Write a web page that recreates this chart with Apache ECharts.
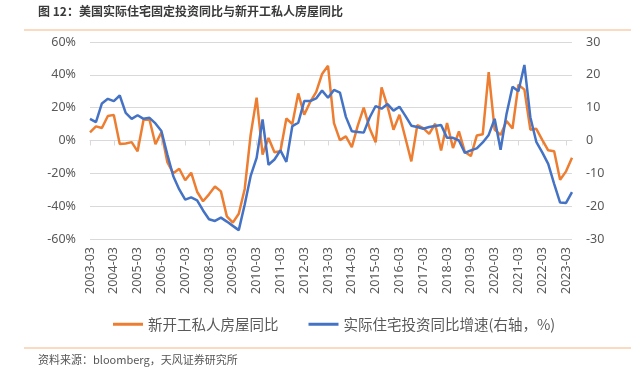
<!DOCTYPE html>
<html><head><meta charset="utf-8">
<script src="https://cdn.jsdelivr.net/npm/echarts@6/dist/echarts.min.js"></script>
<style>html,body{margin:0;padding:0;background:#fff}#c{width:631px;height:375px}</style>
</head><body><div id="c"></div>
<script>
// quarterly categories 2003-03 .. 2023-06
const categories = [];
for (let y = 2003; y <= 2023; y++) { for (const m of ['03','06','09','12']) { categories.push(y + '-' + m); } }
categories.length = 82;

const housingStartsYoY = [5.0,8.6,7.6,14.9,15.6,-2.1,-1.8,-1.0,-6.6,12.6,12.6,-2.3,5.0,-13.2,-20.0,-17.2,-24.2,-19.6,-31.2,-37.0,-32.8,-28.0,-31.0,-46.2,-50.0,-44.6,-29.5,3.5,26.1,-8.6,1.5,-7.1,-6.5,13.4,10.0,28.7,15.7,23.5,29.5,40.5,45.5,10.6,0.2,2.5,-4.0,9.1,20.0,7.3,-1.1,32.4,20.8,6.6,15.7,1.5,-12.7,9.3,7.5,4.0,10.2,-6.1,10.6,-4.6,5.6,-7.0,-9.5,3.0,3.8,41.6,6.6,3.4,11.9,7.3,34.0,31.0,6.6,7.1,0.4,-6.0,-6.6,-23.9,-18.8,-10.5];

const resInvestYoY = [6.6,5.6,11.3,12.7,12.0,13.7,8.4,6.6,7.7,6.6,6.9,5.2,2.9,-4.3,-10.9,-14.9,-18.0,-17.3,-18.2,-21.3,-24.0,-24.5,-23.5,-24.7,-26.0,-27.3,-19.5,-10.8,-5.3,6.4,-7.4,-5.8,-3.0,-6.5,4.4,5.4,12.0,12.0,12.8,15.2,13.0,15.4,14.6,7.2,2.8,2.6,2.4,7.0,10.5,9.7,11.1,9.1,10.3,7.5,4.5,4.1,3.6,4.1,4.4,4.7,0.8,0.8,0.0,-3.8,-3.0,-2.4,-0.6,1.7,6.6,-2.8,8.1,16.4,15.0,23.0,7.1,-0.4,-3.6,-7.1,-13.2,-18.9,-19.0,-15.7];

const seriesNames = ['新开工私人房屋同比', '实际住宅投资同比增速(右轴，%)'];
const titleText = '图 12：美国实际住宅固定投资同比与新开工私人房屋同比';
const sourceText = '资料来源：bloomberg，天风证券研究所';

const chart = echarts.init(document.getElementById('c'), null, {renderer: 'canvas'});
const axisFont = {color: '#595959', fontSize: 12.5, fontFamily: 'Noto Sans'};
chart.setOption({
  animation: false,
  backgroundColor: '#fff',
  grid: {left: 90, right: 59, top: 42, bottom: 136, containLabel: false},
  graphic: [
    {type: 'text', left: 38, top: 5, style: {text: titleText, font: 'bold 12px "Noto Sans CJK SC"', fill: '#3a3a3a'}},
    {type: 'line', shape: {x1: 24, y1: 30, x2: 631, y2: 30}, style: {stroke: '#F5B583', lineWidth: 1.2}},
    {type: 'line', shape: {x1: 24, y1: 348, x2: 631, y2: 348}, style: {stroke: '#F5B583', lineWidth: 1.2}},
    {type: 'text', left: 38, top: 354, style: {text: sourceText, font: '11px "Noto Sans CJK SC"', fill: '#555'}}
  ],
  legend: {
    top: 312, left: 108,
    itemWidth: 30, itemHeight: 3, itemGap: 30,
    icon: 'rect',
    textStyle: {color: '#595959', fontSize: 14.5, fontFamily: 'Noto Sans CJK SC'},
    data: seriesNames
  },
  xAxis: [
    {
      type: 'category', data: categories, boundaryGap: false, position: 'bottom',
      axisLine: {show: false, onZero: false}, axisTick: {show: false},
      axisLabel: Object.assign({rotate: 90, interval: 3, margin: 8}, axisFont),
      splitLine: {show: false}
    },
    {
      type: 'category', data: categories, boundaryGap: false, position: 'bottom',
      axisLine: {show: true, onZero: true, onZeroAxisIndex: 0, lineStyle: {color: '#d9d9d9', width: 1}},
      axisTick: {show: true, interval: 3, length: 5, lineStyle: {color: '#d9d9d9'}},
      axisLabel: {show: false}, splitLine: {show: false}
    }
  ],
  yAxis: [
    {
      type: 'value', min: -60, max: 60, interval: 20, position: 'left',
      axisLine: {show: false}, axisTick: {show: false},
      axisLabel: Object.assign({formatter: '{value}%', margin: 14}, axisFont),
      splitLine: {show: true, lineStyle: {color: '#d9d9d9', width: 1}}
    },
    {
      type: 'value', min: -30, max: 30, interval: 10, position: 'right',
      axisLine: {show: false}, axisTick: {show: false},
      axisLabel: Object.assign({margin: 14}, axisFont),
      splitLine: {show: false}
    }
  ],
  series: [
    {name: seriesNames[0], type: 'line', xAxisIndex: 0, yAxisIndex: 0, data: housingStartsYoY,
     showSymbol: false, symbol: 'none', lineStyle: {color: '#ED7D31', width: 2.5}, itemStyle: {color: '#ED7D31'}, z: 2},
    {name: seriesNames[1], type: 'line', xAxisIndex: 0, yAxisIndex: 1, data: resInvestYoY,
     showSymbol: false, symbol: 'none', lineStyle: {color: '#4472C4', width: 2.5}, itemStyle: {color: '#4472C4'}, z: 3}
  ]
});
</script></body></html>
